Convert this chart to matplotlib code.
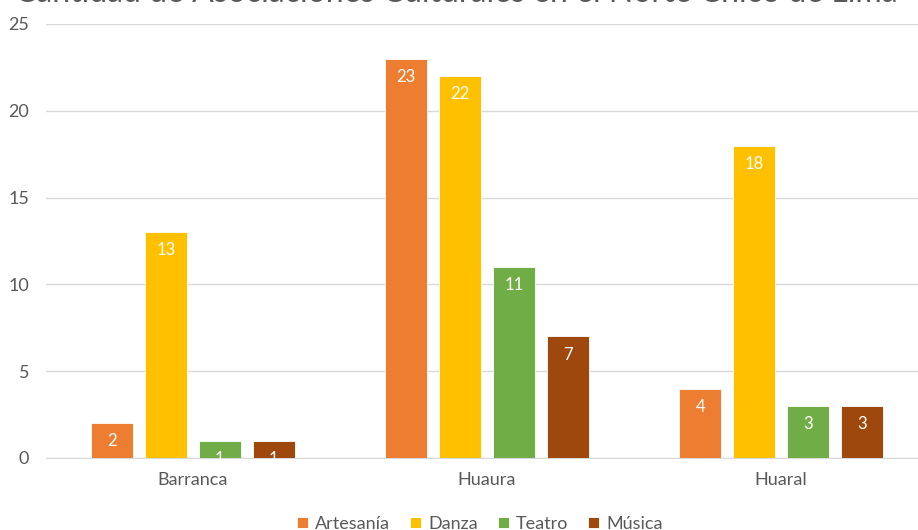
import numpy as np
import matplotlib.pyplot as plt

plt.rcParams['font.family'] = ['Lato', 'DejaVu Sans']

provincias = ['Barranca', 'Huaura', 'Huaral']
series = ['Artesanía', 'Danza', 'Teatro', 'Música']
artesania = [2, 23, 4]
danza = [13, 22, 18]
teatro = [1, 11, 3]
musica = [1, 7, 3]
valores = [artesania, danza, teatro, musica]
colores = ['#ED7D31', '#FFC000', '#70AD47', '#9E480E']
titulo = 'Cantidad de Asociaciones Culturales en el Norte Chico de Lima'

gris = '#595959'

fig = plt.figure(figsize=(9.18, 5.30), dpi=100)
ax = fig.add_axes([46 / 918, 72 / 530, 882 / 918, 434 / 530])

x = np.arange(len(provincias))
ancho = 0.143
paso = 0.183
for i, (nombre, vals, c) in enumerate(zip(series, valores, colores)):
    pos = x + (i - 1.5) * paso
    barras = ax.bar(pos, vals, ancho, color=c, edgecolor='white', linewidth=0.6,
                    label=nombre, zorder=3)
    for b, v in zip(barras, vals):
        ax.annotate(str(v), (b.get_x() + b.get_width() / 2, v),
                    xytext=(0, -13), textcoords='offset points',
                    ha='center', va='center', color='white', fontsize=12)

ax.set_xlim(-0.5, 2.5)
ax.set_ylim(0, 25)
ax.set_yticks(range(0, 26, 5))
ax.set_xticks(x)
ax.set_xticklabels(provincias)
ax.yaxis.grid(True, color='#D9D9D9', linewidth=1, zorder=0)
for s in ['top', 'right', 'left']:
    ax.spines[s].set_visible(False)
ax.spines['bottom'].set_color('#D9D9D9')
ax.tick_params(axis='both', length=0, colors=gris, labelsize=13)
ax.tick_params(axis='x', pad=10)
ax.tick_params(axis='y', pad=12)

# title sits mostly above the canvas
fig.text(15 / 918, 1 - 1.5 / 530, titulo, ha='left', va='baseline',
         fontsize=23, color=gris)

fig.legend(loc='center', bbox_to_anchor=(480 / 918, 6 / 530), ncol=4,
           frameon=False, fontsize=13, handlelength=0.6, handleheight=0.6,
           handletextpad=0.4, columnspacing=1.1, labelcolor=gris)

fig.savefig('out.png', dpi=100)
